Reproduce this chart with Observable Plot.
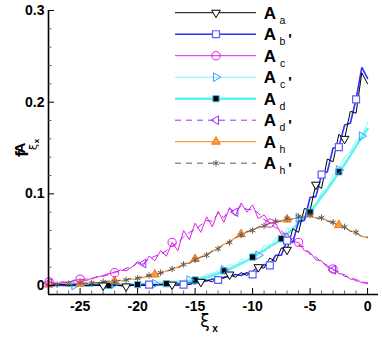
<!DOCTYPE html>
<html>
<head>
<meta charset="utf-8">
<script src="https://cdn.jsdelivr.net/npm/d3@7"></script>
<script src="https://cdn.jsdelivr.net/npm/@observablehq/plot@0.6"></script>
<style>
  body { margin: 0; background: #fff; }
  svg { display: block; }
</style>
</head>
<body>
<div id="chart"></div>
<script>
// ---- data ----
const xi = [-27.7, -27, -26.5, -26, -25.5, -25, -24.5, -24, -23.5, -23, -22.5, -22, -21.5, -21, -20.5, -20,
  -19.5, -19, -18.5, -18, -17.5, -17, -16.5, -16, -15.5, -15, -14.5, -14, -13.5, -13, -12.5, -12, -11.5, -11,
  -10.5, -10, -9.5, -9, -8.5, -8, -7.5, -7, -6.5, -6, -5.5, -5, -4.5, -4, -3.5, -3, -2.5, -2, -1.5, -1, -0.5, 0];

const Aa = [0.001, 0.000, 0.001, 0.000, 0.001, 0.000, 0.000, 0.001, 0.000, 0.000, 0.001, 0.000, 0.000, -0.001, 0.000, 0.001,
  0.000, 0.000, 0.001, 0.001, 0.000, 0.001, 0.000, 0.002, 0.001, 0.003, 0.004, 0.006, 0.004, 0.009, 0.008, 0.012, 0.009, 0.014,
  0.011, 0.016, 0.020, 0.019, 0.030, 0.026, 0.041, 0.039, 0.062, 0.058, 0.084, 0.082, 0.110, 0.106, 0.138, 0.135, 0.165, 0.160, 0.190, 0.188, 0.232, 0.220];

const Abp = [0.000, 0.001, 0.000, 0.000, 0.000, 0.001, 0.000, 0.000, 0.001, 0.000, 0.000, 0.001, 0.000, 0.000, 0.001, 0.000,
  0.001, 0.001, 0.000, 0.001, 0.002, 0.001, 0.002, 0.001, 0.003, 0.002, 0.004, 0.005, 0.007, 0.006, 0.009, 0.010, 0.012, 0.011,
  0.014, 0.012, 0.017, 0.023, 0.022, 0.033, 0.033, 0.049, 0.047, 0.070, 0.071, 0.096, 0.097, 0.121, 0.124, 0.150, 0.151, 0.175, 0.177, 0.203, 0.238, 0.226];

const Ac = [0.004, 0.002, 0.003, 0.004, 0.005, 0.007, 0.005, 0.008, 0.009, 0.011, 0.013, 0.014, 0.017, 0.016, 0.020, 0.026,
  0.022, 0.032, 0.027, 0.038, 0.032, 0.047, 0.038, 0.060, 0.050, 0.068, 0.058, 0.075, 0.064, 0.081, 0.069, 0.085, 0.076, 0.090,
  0.080, 0.088, 0.073, 0.077, 0.068, 0.068, 0.056, 0.057, 0.048, 0.047, 0.038, 0.036, 0.028, 0.027, 0.020, 0.018, 0.013, 0.012, 0.007, 0.007, 0.003, 0.003];

const Acp = [0.000, 0.001, 0.000, 0.002, 0.000, 0.001, 0.002, 0.000, 0.001, 0.002, 0.000, 0.002, 0.001, 0.002, 0.001, 0.003,
  0.002, 0.003, 0.002, 0.004, 0.003, 0.005, 0.004, 0.006, 0.006, 0.008, 0.009, 0.012, 0.013, 0.016, 0.017, 0.023, 0.020, 0.029,
  0.026, 0.036, 0.033, 0.044, 0.040, 0.052, 0.049, 0.063, 0.060, 0.074, 0.073, 0.087, 0.088, 0.102, 0.106, 0.121, 0.126, 0.140, 0.146, 0.158, 0.163, 0.178];

const Ad = [0.000, 0.000, 0.001, 0.000, 0.000, 0.001, 0.000, 0.000, 0.001, 0.000, 0.000, 0.001, 0.001, 0.000, 0.001, 0.001,
  0.002, 0.001, 0.002, 0.002, 0.002, 0.003, 0.004, 0.004, 0.005, 0.006, 0.008, 0.009, 0.011, 0.013, 0.016, 0.018, 0.021, 0.024,
  0.027, 0.031, 0.035, 0.038, 0.043, 0.046, 0.051, 0.056, 0.062, 0.068, 0.073, 0.080, 0.088, 0.097, 0.105, 0.114, 0.124, 0.132, 0.142, 0.152, 0.162, 0.171];

const Adp = [0.003, 0.003, 0.004, 0.003, 0.006, 0.006, 0.007, 0.007, 0.010, 0.010, 0.012, 0.015, 0.015, 0.019, 0.020, 0.025,
  0.024, 0.029, 0.032, 0.034, 0.038, 0.043, 0.047, 0.053, 0.058, 0.061, 0.066, 0.071, 0.070, 0.079, 0.074, 0.084, 0.080, 0.087,
  0.083, 0.083, 0.079, 0.072, 0.068, 0.063, 0.060, 0.053, 0.051, 0.044, 0.042, 0.034, 0.031, 0.025, 0.022, 0.017, 0.015, 0.010, 0.009, 0.005, 0.004, 0.002];

const Ah = [0.001, 0.001, 0.002, 0.001, 0.002, 0.002, 0.003, 0.002, 0.003, 0.004, 0.004, 0.005, 0.005, 0.006, 0.007, 0.007,
  0.009, 0.010, 0.012, 0.013, 0.016, 0.018, 0.020, 0.023, 0.025, 0.029, 0.031, 0.034, 0.037, 0.041, 0.045, 0.048, 0.052, 0.056,
  0.058, 0.061, 0.063, 0.065, 0.068, 0.069, 0.071, 0.072, 0.073, 0.074, 0.075, 0.075, 0.074, 0.073, 0.071, 0.068, 0.066, 0.063, 0.060, 0.057, 0.054, 0.052];

const Ahp = [0.002, 0.001, 0.001, 0.002, 0.001, 0.003, 0.002, 0.003, 0.003, 0.004, 0.005, 0.004, 0.006, 0.006, 0.008, 0.008,
  0.010, 0.011, 0.012, 0.014, 0.015, 0.018, 0.019, 0.023, 0.024, 0.028, 0.031, 0.033, 0.038, 0.040, 0.045, 0.047, 0.052, 0.055,
  0.059, 0.060, 0.064, 0.065, 0.068, 0.070, 0.070, 0.073, 0.072, 0.075, 0.074, 0.077, 0.073, 0.074, 0.070, 0.069, 0.065, 0.064, 0.059, 0.058, 0.053, 0.053];

// marker positions (x values) for each series
const markAa  = [-23, -21, -17, -14.5, -12, -9.5, -7, -4.5, -2];
const markAbp = [-19, -16, -13, -10, -8.5, -7, -4, -2.5, -1];
const markAc  = [-27.7, -25, -22, -17, -8.5, -6, -3];
const markAcp = [-25.5, -22, -18.5, -15.5, -12.5, -9.5, -6, -2.5, -0.5];
const markAd  = [-22.5, -20, -17.5, -15, -12.5, -10, -7.5, -5, -2.5];
const markAdp = [-27.7, -19.5, -11.5, -3];
const markAh  = [-27.7, -25, -22, -18.5, -15, -11, -7, -2.5];
const markAhp = [-27, -26, -25, -24, -23, -22, -21, -20, -19, -18, -17, -16, -15, -14, -13, -12, -11, -10, -9, -8, -7, -6, -5, -4, -3, -2, -1];

// axis ticks
const xTicks = [-25, -20, -15, -10, -5, 0];
const xMinor = [-27, -26, -24, -23, -22, -21, -19, -18, -17, -16, -14, -13, -12, -11, -9, -8, -7, -6, -4, -3, -2, -1];
const yTicks = [0, 0.1, 0.2, 0.3];
const yMinor = [0.02, 0.04, 0.06, 0.08, 0.12, 0.14, 0.16, 0.18, 0.22, 0.24, 0.26, 0.28];

// legend
const legendKeys = ["Aa", "Abp", "Ac", "Acp", "Ad", "Adp", "Ah", "Ahp"];
const legendSub = ["a", "b", "c", "c", "d", "d", "h", "h"];
const legendPrime = [false, true, false, true, false, true, false, true];

// ---- custom symbols ----
const triDown = {draw(c, size) { const y = -Math.sqrt(size / (3 * Math.sqrt(3))); c.moveTo(0, -2 * y); c.lineTo(-Math.sqrt(3) * y, y); c.lineTo(Math.sqrt(3) * y, y); c.closePath(); }};
const triRight = {draw(c, size) { const y = -Math.sqrt(size / (3 * Math.sqrt(3))); c.moveTo(-2 * y, 0); c.lineTo(y, -Math.sqrt(3) * y); c.lineTo(y, Math.sqrt(3) * y); c.closePath(); }};
const triLeft = {draw(c, size) { const y = -Math.sqrt(size / (3 * Math.sqrt(3))); c.moveTo(2 * y, 0); c.lineTo(-y, -Math.sqrt(3) * y); c.lineTo(-y, Math.sqrt(3) * y); c.closePath(); }};

const series = {
  Aa:  {vals: Aa,  marks: markAa,  stroke: "#000000", width: 1,   dash: null,  sym: triDown,    r: 3.2, mStroke: "#000", mFill: "#fff", mW: 1},
  Abp: {vals: Abp, marks: markAbp, stroke: "#2f2fff", width: 1.6, dash: null,  sym: "square",   r: 3.9, mStroke: "#5c5cff", mFill: "#fff", mW: 1.2},
  Ac:  {vals: Ac,  marks: markAc,  stroke: "#e61ee6", width: 1,   dash: null,  sym: "circle",   r: 4.1, mStroke: "#e61ee6", mFill: "none", mW: 1},
  Acp: {vals: Acp, marks: markAcp, stroke: "#7ff7f7", width: 1,   dash: null,  sym: triRight,   r: 3.2, mStroke: "#3a9cff", mFill: "none", mW: 1},
  Ad:  {vals: Ad,  marks: markAd,  stroke: "#5cf3f3", width: 2.6, dash: null,  sym: "square",   r: 3.5, mStroke: "#3fc6ef", mFill: "#000", mW: 1},
  Adp: {vals: Adp, marks: markAdp, stroke: "#9a2ff5", width: 1,   dash: "6,5", sym: triLeft,    r: 3.2, mStroke: "#9a2ff5", mFill: "none", mW: 1},
  Ah:  {vals: Ah,  marks: markAh,  stroke: "#ff9a3a", width: 1.3, dash: null,  sym: "triangle", r: 3.2, mStroke: "#e8781a", mFill: "#ff9a3a", mW: 1},
  Ahp: {vals: Ahp, marks: markAhp, stroke: "#5a5a5a", width: 1,   dash: "6,5", sym: "asterisk", r: 3.0, mStroke: "#5a5a5a", mFill: "none", mW: 1}
};

const rows = k => xi.map((x, i) => ({x, y: series[k].vals[i]}));

const W = 382, H = 337, mL = 48, mR = 4, mT = 10, mB = 43;
const xDom = [-27.75, 0.95], yDom = [-0.0098, 0.3];
const ux = (xDom[1] - xDom[0]) / (W - mL - mR);
const uy = (yDom[1] - yDom[0]) / (H - mT - mB);

const lineOrder = ["Ad", "Acp", "Ah", "Ahp", "Adp", "Ac", "Abp", "Aa"];

const marks = [];
for (const k of lineOrder) {
  const s = series[k];
  marks.push(Plot.line(rows(k), {x: "x", y: "y", stroke: s.stroke, strokeWidth: s.width, strokeDasharray: s.dash, strokeLinejoin: "miter"}));
}
for (const k of lineOrder) {
  const s = series[k];
  marks.push(Plot.dot(rows(k).filter(d => s.marks.includes(d.x)), {x: "x", y: "y", symbol: s.sym, r: s.r, stroke: s.mStroke, fill: s.mFill, strokeWidth: s.mW}));
}
// axes lines
marks.push(Plot.ruleX([xDom[0]], {y1: yDom[0], y2: 0.3, stroke: "#000", strokeWidth: 1.6}));
marks.push(Plot.ruleY([yDom[0]], {x1: xDom[0], x2: xDom[1], stroke: "#000", strokeWidth: 1.6}));
// ticks (pointing inward)
marks.push(Plot.ruleY(yTicks, {y: d => d, x1: xDom[0], x2: xDom[0] + 6 * ux, stroke: "#000", strokeWidth: 1}));
marks.push(Plot.ruleY(yMinor, {y: d => d, x1: xDom[0], x2: xDom[0] + 3.5 * ux, stroke: "#444", strokeWidth: 0.8}));
marks.push(Plot.ruleX(xTicks, {x: d => d, y1: yDom[0], y2: yDom[0] + 6 * uy, stroke: "#000", strokeWidth: 1}));
marks.push(Plot.ruleX(xMinor, {x: d => d, y1: yDom[0], y2: yDom[0] + 3.5 * uy, stroke: "#444", strokeWidth: 0.8}));
// tick labels
marks.push(Plot.axisY(yTicks, {tickSize: 0, tickPadding: 4, tickFormat: d => String(d), fontSize: 14, fontWeight: "bold", label: null}));
marks.push(Plot.axisX(xTicks, {tickSize: 0, tickPadding: 7, tickFormat: d => String(d), fontSize: 14, fontWeight: "bold", label: null}));

const svg = Plot.plot({
  width: W, height: H,
  marginLeft: mL, marginRight: mR, marginTop: mT, marginBottom: mB,
  x: {domain: xDom},
  y: {domain: yDom},
  style: {fontFamily: "'Liberation Sans', Arial, sans-serif", background: "#fff", color: "#000", overflow: "visible"},
  marks
});
document.getElementById("chart").appendChild(svg);

// ---- legend and axis titles ----
const g = d3.select(svg).append("g").attr("font-family", "'Liberation Sans', Arial, sans-serif");
legendKeys.forEach((k, i) => {
  const s = series[k];
  const y = 12.7 + 21.5 * i;
  g.append("line").attr("x1", 175).attr("x2", 256).attr("y1", y).attr("y2", y)
    .attr("stroke", s.stroke).attr("stroke-width", s.width).attr("stroke-dasharray", s.dash);
  const sym = typeof s.sym === "string" ? ({square: d3.symbolSquare, circle: d3.symbolCircle, triangle: d3.symbolTriangle, asterisk: d3.symbolAsterisk})[s.sym] : s.sym;
  g.append("path").attr("transform", `translate(216,${y})`)
    .attr("d", d3.symbol(sym, Math.PI * s.r * s.r)())
    .attr("fill", s.mFill).attr("stroke", s.mStroke).attr("stroke-width", s.mW);
  g.append("text").attr("x", 270).attr("y", y + 5.8).attr("font-size", 17).attr("font-weight", "bold").text("A");
  g.append("text").attr("x", 282.5).attr("y", y + 10.8).attr("font-size", 10.5).text(legendSub[i]);
  if (legendPrime[i]) g.append("text").attr("x", 290).attr("y", y + 10).attr("font-size", 15).attr("font-weight", "bold").text("'");
});

// y axis title f^A_{ξx}
const yt = g.append("g").attr("transform", "translate(28,154) rotate(-90)");
yt.append("text").attr("x", 0).attr("y", 0).attr("font-size", 18).attr("font-weight", "bold").text("f");
yt.append("text").attr("x", 6).attr("y", -3).attr("font-size", 15).attr("font-weight", "bold").text("A");
yt.append("text").attr("x", 7).attr("y", 9).attr("font-size", 11).attr("font-family", "'DejaVu Sans', sans-serif").text("ξ");
yt.append("text").attr("x", 13).attr("y", 11).attr("font-size", 8).attr("font-weight", "bold").text("x");

// x axis title ξx
g.append("text").attr("x", 205).attr("y", 327).attr("font-size", 17).attr("font-family", "'DejaVu Sans', sans-serif").text("ξ");
g.append("text").attr("x", 215).attr("y", 332).attr("font-size", 10).attr("font-weight", "bold").text("x");
</script>
</body>
</html>
